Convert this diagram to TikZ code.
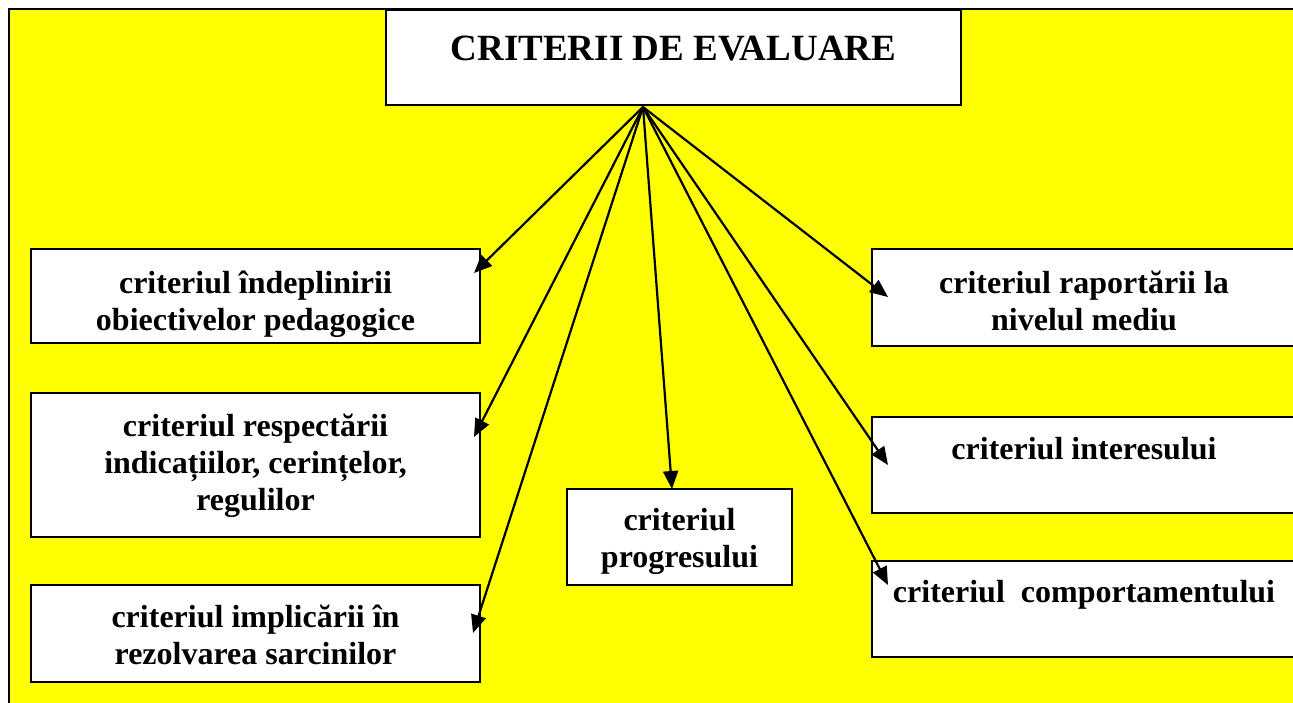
\documentclass[tikz,border=0pt]{standalone}
\usepackage{fontspec}
\setmainfont{Liberation Serif}
\usetikzlibrary{arrows.meta}
\definecolor{bgyellow}{RGB}{255,255,0}
\begin{document}
\begin{tikzpicture}[x=1pt,y=-1pt,
  box/.style={draw=black,line width=2pt,fill=white,inner sep=0pt,outer sep=0pt,
    font=\bfseries\fontsize{32}{37}\selectfont,align=center},
  arr/.style={line width=2.2pt,-{Triangle[length=18pt,width=15pt]}}]
\useasboundingbox (0,0) rectangle (1293,702);
\clip (0,0) rectangle (1293,702);
\fill[white] (0,0) rectangle (1293,702);
\draw[line width=2pt,fill=bgyellow] (9,9) rectangle (1320,730);
% boxes
\node[box,minimum width=575pt,minimum height=95pt,text depth=19.5pt,
  font=\bfseries\fontsize{37}{42}\selectfont] (top) at (673.5,57.5) {CRITERII DE EVALUARE};
\node[box,minimum width=449pt,minimum height=94pt,text height=68pt,text depth=0pt] (l1) at (255.5,296)
  {criteriul îndeplinirii\\obiectivelor pedagogice};
\node[box,minimum width=449pt,minimum height=144pt,text height=90pt,text depth=0pt] (l2) at (255.5,465)
  {criteriul respectării\\indicațiilor, cerințelor,\\regulilor};
\node[box,minimum width=449pt,minimum height=97pt,text height=61pt,text depth=0pt] (l3) at (255.5,633.5)
  {criteriul implicării în\\rezolvarea sarcinilor};
\node[box,minimum width=225pt,minimum height=96pt,text height=60pt,text depth=0pt] (mid) at (679.5,537)
  {criteriul\\progresului};
\node[box,minimum width=424pt,minimum height=97pt,text height=65pt,text depth=0pt] (r1) at (1084,297.5)
  {criteriul raportării la\\nivelul mediu};
\node[box,minimum width=424pt,minimum height=96pt,text height=18pt,text depth=30pt] (r2) at (1084,465)
  {criteriul interesului};
\node[box,minimum width=424pt,minimum height=96pt,text height=16pt,text depth=30pt] (r3) at (1084,609)
  {criteriul\ \ comportamentului};
% arrow end points
\coordinate (src) at (643,107);
\coordinate (t1) at (474,273);
\coordinate (t2) at (474,437);
\coordinate (t3) at (473,633);
\coordinate (tm) at (672,489);
\coordinate (tr1) at (888,297);
\coordinate (tr2) at (888,465);
\coordinate (tr3) at (888,585);
\foreach \t in {t1,t2,t3,tm,tr1,tr2,tr3}
  \draw[arr] (src) -- (\t);
\end{tikzpicture}
\end{document}
